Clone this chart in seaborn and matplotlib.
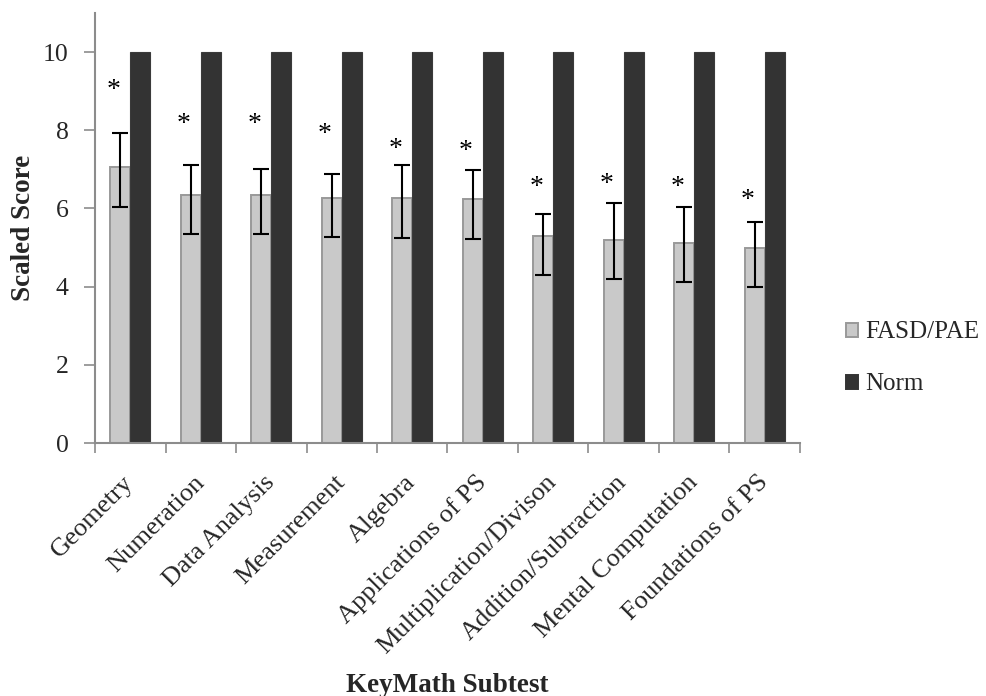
import matplotlib
matplotlib.use("Agg")
import matplotlib.pyplot as plt
from matplotlib.ticker import FixedLocator
import seaborn as sns
import pandas as pd

# KeyMath subtest scaled scores
subtests = ["Geometry", "Numeration", "Data Analysis", "Measurement", "Algebra",
            "Applications of PS", "Multiplication/Divison", "Addition/Subtraction",
            "Mental Computation", "Foundations of PS"]
fasd_scores = [7.05, 6.34, 6.34, 6.28, 6.26, 6.23, 5.30, 5.19, 5.12, 4.99]
norm_scores = [10, 10, 10, 10, 10, 10, 10, 10, 10, 10]
err_upper = [0.88, 0.77, 0.67, 0.60, 0.85, 0.75, 0.57, 0.95, 0.92, 0.66]
err_lower = [1.01, 1.00, 1.00, 1.00, 1.01, 1.00, 1.01, 1.00, 1.00, 1.00]
star_heights = [9.13, 8.25, 8.25, 8.00, 7.62, 7.56, 6.65, 6.72, 6.65, 6.30]
groups = ["FASD/PAE", "Norm"]
colors = ["#c9c9c9", "#333333"]

df = pd.DataFrame({
    "Subtest": subtests * 2,
    "Group": [groups[0]] * len(subtests) + [groups[1]] * len(subtests),
    "Score": fasd_scores + norm_scores,
})

sns.set_style("white")
plt.rcParams["font.family"] = ["Liberation Serif", "DejaVu Serif"]
plt.rcParams["font.size"] = 18

fig = plt.figure(figsize=(9.87, 6.96), dpi=100)
ax = fig.add_axes([95 / 987, 1 - 443 / 696, 705 / 987, 430 / 696])

sns.barplot(data=df, x="Subtest", y="Score", hue="Group", order=subtests,
            hue_order=groups, palette=colors, width=0.57,
            gap=0, errorbar=None, saturation=1, ax=ax, legend=True)

light_bars = ax.containers[0]
for bar in light_bars:
    bar.set_edgecolor("#999999")
    bar.set_linewidth(1.4)
for bar in ax.containers[1]:
    bar.set_edgecolor("#3a3a3a")
    bar.set_linewidth(0.8)

# Asymmetric error bars and significance markers on the FASD/PAE bars
xs = [b.get_x() + b.get_width() / 2 for b in light_bars]
ax.errorbar(xs, fasd_scores, yerr=[err_lower, err_upper], fmt="none",
            ecolor="black", elinewidth=1.5, capsize=6, capthick=1.5, zorder=5)
for x, h in zip(xs, star_heights):
    ax.annotate("*", xy=(x, h), xytext=(-5, -3), textcoords="offset points",
                ha="center", va="center", fontsize=20, color="black")

ax.set_ylim(0, 11)
ax.set_xlim(-0.5, len(subtests) - 0.5)
ax.set_yticks([0, 2, 4, 6, 8, 10])

# Category boundary ticks, labels at category centres
ax.xaxis.set_minor_locator(FixedLocator([i - 0.5 for i in range(len(subtests) + 1)]))
ax.tick_params(axis="x", which="major", length=0, pad=26)
ax.tick_params(axis="x", which="minor", length=7, width=1.2, color="#8c8c8c",
               direction="out", bottom=True)
ax.tick_params(axis="y", which="major", length=8, width=1.2, color="#8c8c8c",
               direction="out", left=True, pad=11, labelsize=18.5)
ax.set_xticks(range(len(subtests)))
ax.set_xticklabels(subtests, rotation=45, ha="right", va="center",
                   rotation_mode="anchor", fontsize=19)

for side in ["top", "right"]:
    ax.spines[side].set_visible(False)
for side in ["left", "bottom"]:
    ax.spines[side].set_color("#8c8c8c")
    ax.spines[side].set_linewidth(1.5)

ax.set_xlabel("KeyMath Subtest", fontsize=19.5, fontweight="bold")
ax.set_ylabel("Scaled Score", fontsize=19.5, fontweight="bold")
ax.xaxis.set_label_coords(0.5, (443 - 685) / 430)
ax.xaxis.label.set_va("center")
ax.yaxis.set_label_coords((23 - 95) / 705, 0.5)
ax.yaxis.label.set_va("center")

handles, labels = ax.get_legend_handles_labels()
leg = ax.legend(handles, labels, loc="center left",
                bbox_to_anchor=(846 / 987, 1 - 358.5 / 696),
                bbox_transform=fig.transFigure, frameon=False, fontsize=18,
                handlelength=0.5, handleheight=0.5, handletextpad=0.25,
                labelspacing=1.2, borderpad=0, borderaxespad=0)
for patch, ec in zip(leg.get_patches(), ["#999999", "#333333"]):
    patch.set_edgecolor(ec)
    patch.set_linewidth(1.4)

fig.savefig("out.png", dpi=100)
